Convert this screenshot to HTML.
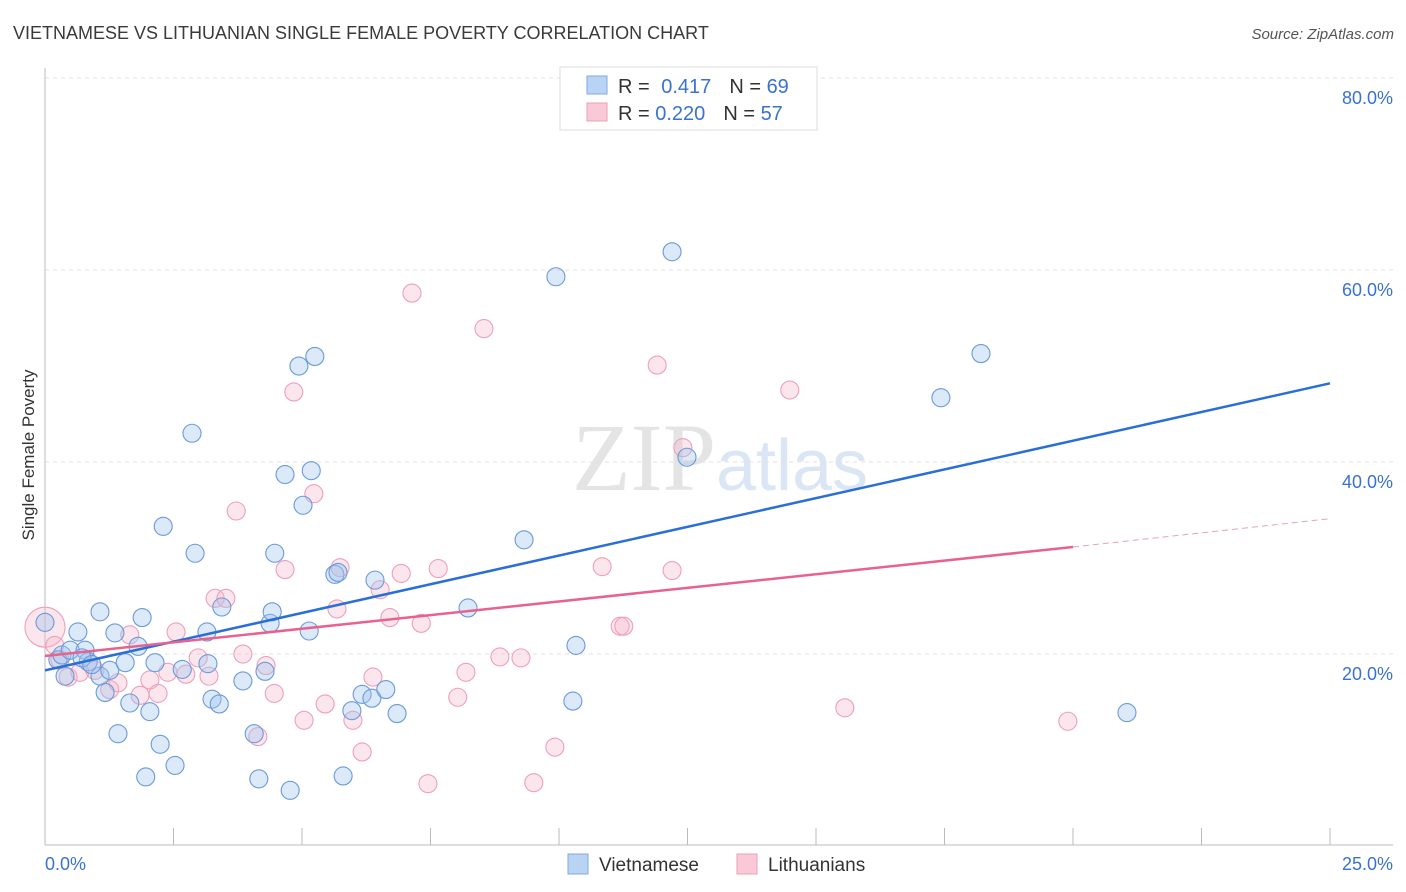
<!DOCTYPE html>
<html><head><meta charset="utf-8"><style>
body{margin:0;background:#fff;font-family:"Liberation Sans",sans-serif;}
</style></head><body>
<svg id="chart" width="1406" height="892" xmlns="http://www.w3.org/2000/svg" style="display:block">
<text x="13" y="39" font-size="18" fill="#3a3a3a" font-family="Liberation Sans, sans-serif">VIETNAMESE VS LITHUANIAN SINGLE FEMALE POVERTY CORRELATION CHART</text>
<text x="1394" y="39" font-size="15" fill="#555" text-anchor="end" font-style="italic">Source: ZipAtlas.com</text>
<text x="720" y="490" font-size="96" fill="#e4e4e4" text-anchor="middle" font-family="Liberation Serif, serif">ZIP<tspan fill="#dbe6f5" font-family="Liberation Sans, sans-serif" font-size="72">atlas</tspan></text>
<g id="grid"></g>
<g id="axes"></g>
<g id="pts"></g>
<g id="lines"></g>
<text transform="translate(34,455) rotate(-90)" font-size="17" fill="#333" text-anchor="middle">Single Female Poverty</text>
<g>
<rect x="560" y="67" width="257" height="63" fill="#fff" stroke="#ddd"/>
<rect x="587" y="76" width="20" height="18" fill="#b9d3f5" stroke="#7fa9e0"/>
<rect x="587" y="103" width="20" height="18" fill="#f9c9d7" stroke="#eaa0b8"/>
<text x="618" y="93" font-size="20" fill="#333">R = <tspan fill="#3a72d0" dx="6">0.417</tspan><tspan dx="18" fill="#333">N = </tspan><tspan fill="#3a72d0">69</tspan></text>
<text x="618" y="120" font-size="20" fill="#333">R = <tspan fill="#3a72d0">0.220</tspan><tspan dx="18" fill="#333">N = </tspan><tspan fill="#3a72d0">57</tspan></text>
</g>
<g>
<rect x="568" y="854" width="20" height="20" fill="#b9d3f5" stroke="#7fa9e0"/>
<text x="599" y="871" font-size="19" fill="#333">Vietnamese</text>
<rect x="737" y="854" width="20" height="20" fill="#f9c9d7" stroke="#eaa0b8"/>
<text x="768" y="871" font-size="19" fill="#333">Lithuanians</text>
</g>
</svg>
<script>
const blueX=[0,0.25,0.33,0.49,0.64,0.78,0.84,0.39,1.07,1.07,1.17,1.26,1.36,1.42,1.56,1.65,1.81,1.89,1.96,2.04,2.14,2.24,2.30,2.53,2.67,2.86,2.92,3.15,3.17,3.25,3.39,3.44,3.85,4.07,4.16,4.28,4.38,4.42,4.47,4.67,4.77,4.94,5.02,5.14,5.18,5.25,5.64,5.70,5.80,5.97,6.17,6.36,6.42,6.63,6.85,8.23,9.32,9.94,10.27,10.33,12.20,12.49,17.43,18.21,21.05,0.72,0.91];
const blueY=[23.4,19.5,20.0,20.5,22.4,20.5,19.3,17.8,24.5,17.8,16.1,18.4,22.3,11.8,19.2,15.0,20.9,23.9,7.3,14.1,19.2,10.7,33.4,8.5,18.5,43.1,30.6,22.4,19.1,15.4,14.9,25.0,17.3,11.8,7.1,18.3,23.3,24.5,30.6,38.8,5.9,50.1,35.6,22.5,39.2,51.1,28.4,28.6,7.4,14.2,15.9,15.5,27.8,16.4,13.9,24.9,32.0,59.4,15.2,21.0,62.0,40.6,46.8,51.4,14.0,19.7,19.0];
const pinkX=[0,0.19,0.29,0.45,0.68,0.97,1.26,1.42,1.65,1.85,2.04,2.20,2.39,2.55,2.74,2.98,3.19,3.31,3.52,3.72,3.85,4.14,4.30,4.46,4.67,4.84,5.04,5.23,5.45,5.68,5.74,5.99,6.17,6.38,6.52,6.71,6.93,7.14,7.32,7.45,7.65,8.03,8.19,8.54,8.85,9.26,9.51,9.92,10.84,11.19,11.26,11.91,12.20,12.41,14.49,15.56,19.90];
const pinkY=[22.9,21.0,19.5,17.7,18.2,18.4,16.4,17.1,22.1,15.8,17.4,16.0,18.2,22.4,18.0,19.7,17.8,25.9,25.9,35.0,20.1,11.5,18.9,16.0,28.9,47.4,13.2,36.8,14.9,24.8,29.1,13.2,9.9,17.7,26.8,23.9,28.5,57.7,23.3,6.6,29.0,15.6,18.2,54.0,19.8,19.7,6.7,10.4,29.2,23.0,23.0,50.2,28.8,41.6,47.6,14.5,13.1];
const yTicks=[20,40,60,80];
const yTickLabels=["20.0%","40.0%","60.0%","80.0%"];
const xTickVals=[0,2.5,5,7.5,10,12.5,15,17.5,20,22.5,25];
const blueTrend=[18.4,48.3];
const pinkTrend=[19.9,31.25,34.2];
const NS="http://www.w3.org/2000/svg";
const X=v=>45+v*1285/25, Y=v=>847-v*9.6;
function mk(t,a,p){const e=document.createElementNS(NS,t);for(const k in a)e.setAttribute(k,a[k]);p.appendChild(e);return e;}
const grid=document.getElementById('grid'),axes=document.getElementById('axes'),pts=document.getElementById('pts'),lines=document.getElementById('lines');
yTicks.forEach((t,i)=>{
 const l=mk('line',{x1:45,x2:1393,y1:Y(t)-1,y2:Y(t)-1,stroke:'#e2e2e2','stroke-dasharray':'4,4'},grid);
 
 
 const tx=mk('text',{x:1393,y:Y(t)+25,'font-size':18,fill:'#3a72d0','text-anchor':'end'},axes);
 tx.textContent=yTickLabels[i];
 
 
});
let a=mk('line',{x1:45,x2:45,y1:68,y2:845,stroke:'#bbb'},axes);


a=mk('line',{x1:45,x2:1393,y1:845,y2:845,stroke:'#bbb'},axes);


xTickVals.forEach(v=>{const t=mk('line',{x1:X(v),x2:X(v),y1:828,y2:845,stroke:'#bbb'},axes);
 
 });
let t=mk('text',{x:45,y:870,'font-size':18,fill:'#3a72d0'},axes);t.textContent='0.0%';


t=mk('text',{x:1393,y:870,'font-size':18,fill:'#3a72d0','text-anchor':'end'},axes);t.textContent='25.0%';


pinkX.forEach((x,i)=>{const c=mk('circle',{cx:X(x),cy:Y(pinkY[i]),r:i==0?20:9,fill:'rgba(246,182,202,0.35)',stroke:'#ee9fba','stroke-width':1.1},pts);
 
 });
blueX.forEach((x,i)=>{const c=mk('circle',{cx:X(x),cy:Y(blueY[i]),r:9,fill:'rgba(160,196,240,0.38)',stroke:'#6a9ad9','stroke-width':1.1},pts);
 
 });
let ln=mk('line',{x1:X(0),y1:Y(blueTrend[0]),x2:X(25),y2:Y(blueTrend[1]),stroke:'#2a6fd6','stroke-width':2.5},lines);


ln=mk('line',{x1:X(0),y1:Y(pinkTrend[0]),x2:X(20),y2:Y(pinkTrend[1]),stroke:'#e8628f','stroke-width':2.5},lines);


ln=mk('line',{x1:X(20),y1:Y(pinkTrend[1]),x2:X(25),y2:Y(pinkTrend[2]),stroke:'#e8a0b8','stroke-width':1,'stroke-dasharray':'6,4'},lines);


</script>
</body></html>
